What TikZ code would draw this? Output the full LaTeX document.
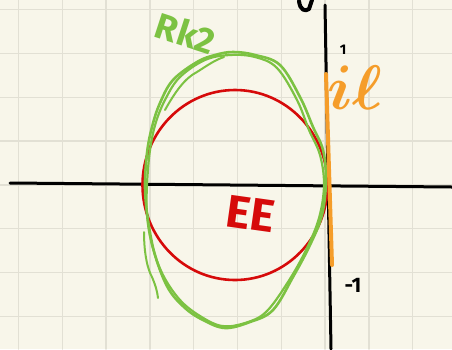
\documentclass[tikz,border=0pt]{standalone}
\usepackage{bm}
\usepackage{fontspec}
\setsansfont{Fira Sans}
\usepackage{tikz}
\usetikzlibrary{arrows.meta}
\definecolor{paper}{HTML}{F8F6EA}
\definecolor{gridc}{HTML}{E2E0D4}
\definecolor{eered}{HTML}{D60A0A}
\definecolor{rkgreen}{HTML}{7CC242}
\definecolor{ilorange}{HTML}{F59D2A}
\tikzset{hand/.style={font=\sffamily\bfseries,inner sep=0pt}}

\begin{document}
\begin{tikzpicture}[x=1pt,y=-1pt,line cap=round,line join=round]
\fill[paper](0,0)rectangle(452,349);
\useasboundingbox(0,0)rectangle(452,349);
\foreach \gx in {0,...,9}\draw[gridc,line width=1.5pt](18.5+43.8*\gx,0)--(18.5+43.8*\gx,349);
\foreach \gy in {0,...,7}\draw[gridc,line width=1.5pt](0,9.7+43.8*\gy)--(452,9.7+43.8*\gy);
% axes
\draw[line width=3pt](10,183)--(452,187);
\draw[line width=3pt](325,5)--(331,349);
\draw[line width=4pt](299,1)..controls(300,10)and(305,12)..(309,9)--(312,0);
% EE
\draw[eered,line width=2.6pt](235,185)ellipse[x radius=92.5,y radius=95];
% RK2
\draw[rkgreen,line width=2.6pt]plot[smooth cycle,tension=0.6]coordinates{(233,52)(255,55)(280,65)(300,97)(313,127)(323,150)(326,180)(322,215)(310,245)(293,277)(273,310)(250,322)(225,328)(203,320)(185,308)(168,288)(155,255)(148,220)(145,187)(147,153)(152,127)(160,103)(173,80)(197,62)(215,55)};
\draw[rkgreen,line width=2.2pt]plot[smooth cycle,tension=0.6]coordinates{(230,55)(255,57)(277,68)(297,100)(309,130)(320,155)(324,185)(319,218)(306,250)(288,282)(266,312)(245,323)(222,326)(200,316)(180,300)(163,275)(152,245)(147,215)(147,185)(150,150)(156,122)(166,98)(180,77)(205,60)};
\draw[rkgreen,line width=2pt](165,110)..controls(175,92)and(185,78)..(197,72)..controls(208,65)and(215,60)..(224,57);
\draw[rkgreen,line width=2pt](144,232)..controls(144,255)and(148,270)..(152,277)..controls(155,284)and(157,290)..(158,298);
% i l
\draw[ilorange,line width=4pt](326,74)--(332,265);
% labels
\node[hand,rkgreen,rotate=-18,font=\sffamily\bfseries\fontsize{36}{36}\selectfont](rk)at(186,33){Rk2};
\node[hand,eered,rotate=-8,font=\sffamily\bfseries\fontsize{46}{46}\selectfont](ee)at(251,214){EE};
\node[hand,ilorange,scale=6.3](il)at(355,88){$\bm{i\ell}$};
\node[hand,font=\sffamily\bfseries\fontsize{14}{14}\selectfont](one)at(343,50){1};
\node[hand,font=\sffamily\bfseries\fontsize{21}{21}\selectfont](mone)at(353,285){-1};
\end{tikzpicture}
\end{document}
